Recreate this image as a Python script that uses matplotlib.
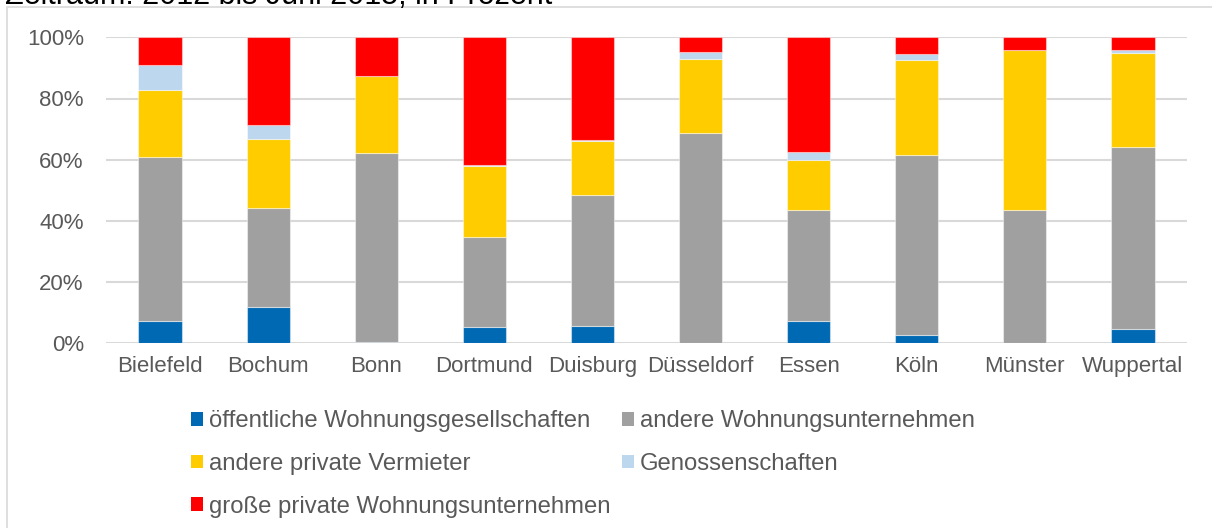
import matplotlib
matplotlib.use("Agg")
import matplotlib.pyplot as plt
from matplotlib.patches import Rectangle, Patch
import numpy as np

plt.rcParams['font.family'] = ['Liberation Sans', 'DejaVu Sans']

title = "Zeitraum: 2012 bis Juni 2015, in Prozent"
cities = ["Bielefeld", "Bochum", "Bonn", "Dortmund", "Duisburg", "Düsseldorf",
          "Essen", "Köln", "Münster", "Wuppertal"]
series_names = ["öffentliche Wohnungsgesellschaften", "andere Wohnungsunternehmen",
                "andere private Vermieter", "Genossenschaften",
                "große private Wohnungsunternehmen"]
oeffentliche = [7.4, 11.8, 0.3, 5.2, 5.6, 0.2, 7.4, 2.6, 0.0, 4.6]
andere_wu = [53.4, 32.3, 61.9, 29.4, 42.9, 68.4, 36.1, 58.9, 43.6, 59.5]
andere_priv = [21.9, 22.6, 25.3, 23.4, 17.5, 24.2, 16.4, 31.0, 52.4, 30.7]
genossen = [8.4, 4.7, 0.0, 0.3, 0.6, 2.3, 2.7, 1.9, 0.0, 1.0]
grosse_priv = [8.9, 28.6, 12.5, 41.7, 33.4, 4.9, 37.4, 5.6, 4.0, 4.2]
yticks = [0, 20, 40, 60, 80, 100]
colors = ["#0069B4", "#A0A0A0", "#FFCC00", "#BDD7EE", "#FF0000"]

data = [oeffentliche, andere_wu, andere_priv, genossen, grosse_priv]

W, H = 1212, 528
fig = plt.figure(figsize=(W / 100, H / 100), dpi=100)
ax = fig.add_axes([106 / W, 1 - 343.3 / H, (1187 - 106) / W, (343.3 - 37.3) / H])

x = np.arange(len(cities))
bottom = np.zeros(len(cities))
handles = []
for vals, name, c in zip(data, series_names, colors):
    v = np.array(vals, dtype=float)
    ax.bar(x, v, 0.4, bottom=bottom, color=c, edgecolor=(1, 1, 1, 0.45),
           linewidth=0.8, zorder=3)
    bottom += v
    handles.append(Patch(facecolor=c, edgecolor='none', label=name))

ax.set_xlim(-0.5, len(cities) - 0.5)
ax.set_ylim(0, 100)
ax.set_yticks(yticks)
ax.set_yticklabels([f"{t}%" for t in yticks])
ax.set_xticks(x)
ax.set_xticklabels(cities)
ax.grid(axis='y', color='#D9D9D9', linewidth=1.5, zorder=0)
for s in ax.spines.values():
    s.set_visible(False)
ax.tick_params(axis='both', length=0, labelsize=16, labelcolor='#595959')
ax.tick_params(axis='y', pad=16)
ax.tick_params(axis='x', pad=9)

# frame around the chart area
fig.patches.append(Rectangle((6.5 / W, -0.1), 1.2, 1 - 7.5 / H + 0.1,
                             transform=fig.transFigure, fill=False,
                             edgecolor='#D9D9D9', linewidth=1.2))

fig.text(5 / W, 1 - 3.5 / H, title, fontsize=22, color='black', va='baseline',
         ha='left')

order = [0, 2, 4, 1, 3]
leg = fig.legend([handles[i] for i in order], [series_names[i] for i in order],
                 ncol=2, loc='upper left', bbox_to_anchor=(191 / W, 1 - 410.2 / H),
                 frameon=False, fontsize=17.2, labelcolor='#595959',
                 handlelength=0.52, handleheight=0.52, handletextpad=0.23,
                 columnspacing=0.47, labelspacing=0.87, borderpad=0,
                 borderaxespad=0)

fig.savefig("out.png", dpi=100)
